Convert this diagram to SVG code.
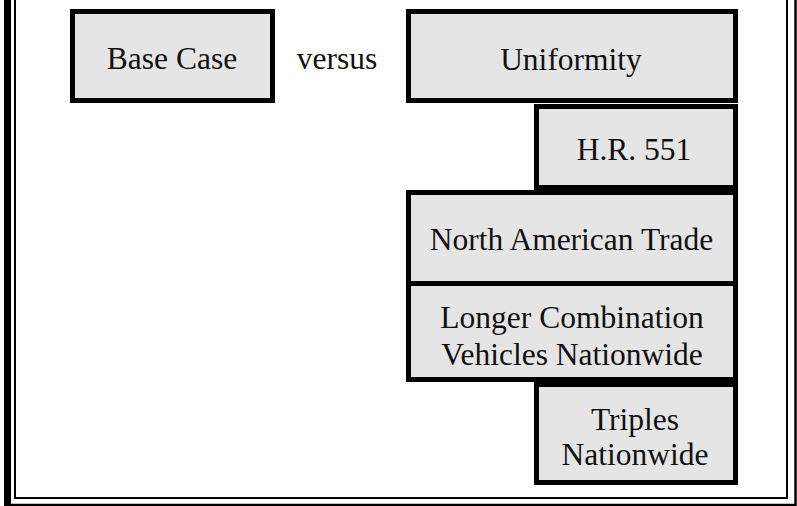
<svg xmlns="http://www.w3.org/2000/svg" width="797" height="506" viewBox="0 0 797 506">
<style>
.box{fill:#e5e5e5;stroke:#000;stroke-width:5}
.t{font-family:"Liberation Serif","Times New Roman",serif;font-size:31.5px;fill:#111;text-anchor:middle}
.frame{fill:none;stroke:#000}
</style>
<rect width="797" height="506" fill="#fff"/>
<g id="frame">
<rect x="4" y="0" width="7" height="506" fill="#000"/>
<path class="frame" d="M15,0 V498 H787 V0" stroke-width="2"/>
<path class="frame" d="M4,505 H795.5 M795.5,0 V506" stroke-width="2.5"/>
</g>
<g id="base-case">
<rect class="box" x="72.5" y="11.5" width="200" height="89"/>
<text class="t" x="172" y="69">Base Case</text>
</g>
<g id="versus">
<text class="t" x="337" y="69">versus</text>
</g>
<g id="uniformity">
<rect class="box" x="408.5" y="11.5" width="327" height="89"/>
<text class="t" x="571" y="70">Uniformity</text>
</g>
<g id="hr551">
<rect class="box" x="536.5" y="106.5" width="199" height="81"/>
<text class="t" x="634" y="160">H.R. 551</text>
</g>
<g id="north-american-trade">
<rect class="box" x="408.5" y="192.5" width="327" height="91"/>
<text class="t" x="571.5" y="250">North American Trade</text>
</g>
<g id="lcv">
<rect class="box" x="408.5" y="283.5" width="327" height="96"/>
<text class="t" x="572" y="328">Longer Combination</text>
<text class="t" x="572" y="365">Vehicles Nationwide</text>
</g>
<g id="triples">
<rect class="box" x="536.5" y="384.5" width="199" height="98"/>
<text class="t" x="635" y="430">Triples</text>
<text class="t" x="635" y="465">Nationwide</text>
</g>
<g id="connectors"></g>
</svg>
